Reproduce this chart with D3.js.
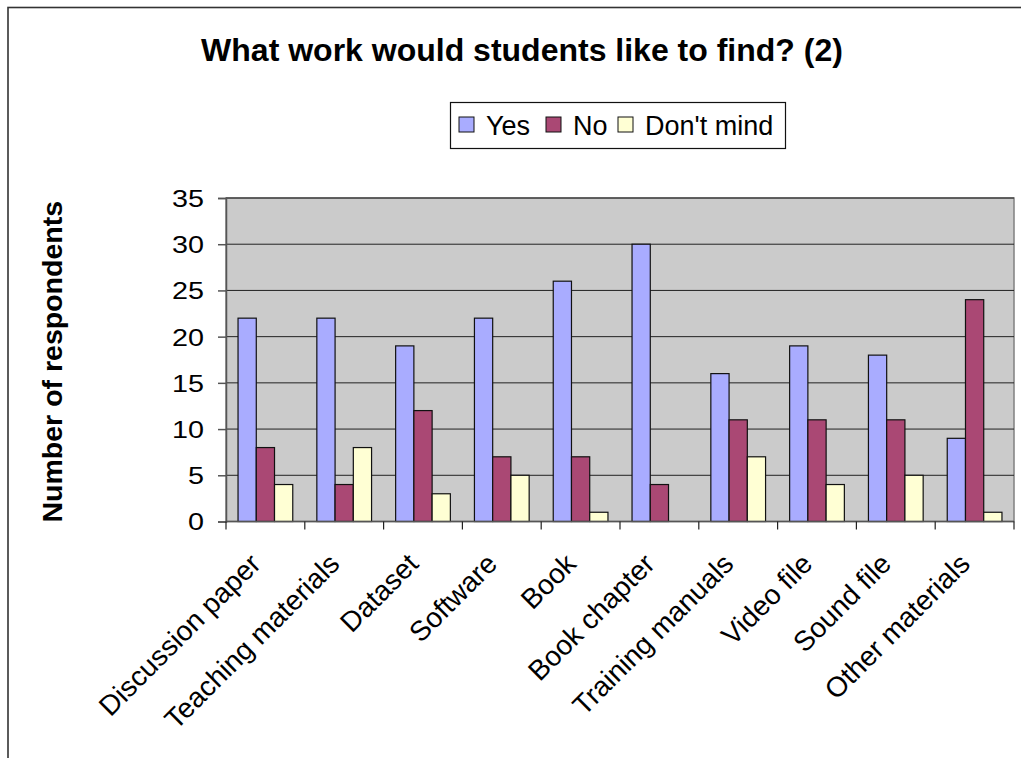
<!DOCTYPE html>
<html>
<head>
<meta charset="utf-8">
<script src="https://cdn.jsdelivr.net/npm/d3@7"></script>
<style>
  body { margin: 0; background: white; }
  svg { display: block; font-family: "Liberation Sans", Arial, sans-serif; }
</style>
</head>
<body>
<svg id="chart" width="1021" height="758"></svg>
<script>
// data
const categories = ["Discussion paper", "Teaching materials", "Dataset", "Software", "Book",
    "Book chapter", "Training manuals", "Video file", "Sound file", "Other materials"]
const seriesNames = ["Yes", "No", "Don't mind"]
const yesValues = [22, 22, 19, 22, 26, 30, 16, 19, 18, 9]
const noValues = [8, 4, 12, 7, 7, 4, 11, 11, 11, 24]
const dontMindValues = [4, 8, 3, 5, 1, 0, 7, 4, 5, 1]
const yTicks = [0, 5, 10, 15, 20, 25, 30, 35]

const colors = ["#a9acff", "#aa4874", "#ffffd4"]
const seriesValues = [yesValues, noValues, dontMindValues]

const svg = d3.select("#chart")

// outer chart frame
svg.append("rect")
    .attr("x", 8).attr("y", 7.5)
    .attr("width", 1030).attr("height", 760)
    .attr("fill", "white")
    .attr("stroke", "#333")
    .attr("stroke-width", 1.6)

const plot = { left: 226, right: 1014, top: 198, bottom: 521.5 }

const x = d3.scaleBand()
    .domain(categories)
    .range([plot.left, plot.right])

const xInner = d3.scaleBand()
    .domain(seriesNames)
    .range([0, x.bandwidth()])
    .paddingInner(0)
    .paddingOuter(0.66)

const y = d3.scaleLinear()
    .domain([0, 35])
    .range([plot.bottom, plot.top])

// plot background
svg.append("rect")
    .attr("x", plot.left).attr("y", plot.top)
    .attr("width", plot.right - plot.left)
    .attr("height", plot.bottom - plot.top)
    .attr("fill", "#cbcbcb")
    .attr("stroke", "#808080")
    .attr("stroke-width", 1.5)

// gridlines
svg.append("g")
    .selectAll("line")
    .data(yTicks.filter(d => d > 0))
    .join("line")
    .attr("x1", plot.left).attr("x2", plot.right)
    .attr("y1", d => y(d)).attr("y2", d => y(d))
    .attr("stroke", "#222")
    .attr("stroke-width", 1)

// y axis
const yAxis = svg.append("g")
    .attr("transform", `translate(${plot.left},0)`)
    .call(d3.axisLeft(y).tickValues(yTicks).tickSize(8).tickPadding(0))
yAxis.select(".domain").attr("stroke", "#555").attr("stroke-width", 1.5)
yAxis.selectAll(".tick line").attr("stroke", "#555").attr("stroke-width", 1.5)
// tick font in the picture is wide, so stretch it sideways a bit
yAxis.selectAll(".tick text")
    .attr("x", null)
    .attr("transform", "translate(-22,1) scale(1.25,1)")
    .attr("font-size", "23px")
    .attr("fill", "#000")
    .style("font-family", "Liberation Sans, Arial, sans-serif")

// bars
const groups = svg.append("g")
    .selectAll("g")
    .data(categories)
    .join("g")
    .attr("transform", d => `translate(${x(d)},0)`)

groups.selectAll("rect")
    .data((d, i) => seriesNames.map((s, j) => ({ s, j, v: seriesValues[j][i] })))
    .join("rect")
    .filter(d => d.v > 0)
    .attr("x", d => xInner(d.s))
    .attr("width", xInner.bandwidth())
    .attr("y", d => y(d.v))
    .attr("height", d => y(0) - y(d.v))
    .attr("fill", d => colors[d.j])
    .attr("stroke", "#111")
    .attr("stroke-width", 1.2)

// x axis line and ticks
const xAxis = svg.append("g")
    .attr("transform", `translate(0,${plot.bottom})`)
xAxis.append("line")
    .attr("x1", plot.left).attr("x2", plot.right)
    .attr("stroke", "#555").attr("stroke-width", 1.5)
xAxis.selectAll(".tk")
    .data(categories.map(c => x(c)).concat([plot.right]))
    .join("line")
    .attr("class", "tk")
    .attr("x1", d => d).attr("x2", d => d)
    .attr("y1", 0).attr("y2", 8)
    .attr("stroke", "#222").attr("stroke-width", 1.2)

// rotated category labels
svg.append("g")
    .selectAll("text")
    .data(categories)
    .join("text")
    .attr("transform", d => `translate(${x(d) + x.bandwidth() / 2 - 17},${plot.bottom + 30}) rotate(-45)`)
    .attr("text-anchor", "end")
    .attr("dy", "0.71em")
    .attr("font-size", "28px")
    .attr("fill", "#000")
    .text(d => d)

// title
svg.append("text")
    .attr("x", 522).attr("y", 61)
    .attr("text-anchor", "middle")
    .attr("font-size", "32px")
    .attr("font-weight", "bold")
    .text("What work would students like to find? (2)")

// y axis title
svg.append("text")
    .attr("transform", `translate(62,${(plot.top + plot.bottom) / 2 + 2}) rotate(-90)`)
    .attr("text-anchor", "middle")
    .attr("font-size", "28.5px")
    .attr("font-weight", "bold")
    .text("Number of respondents")

// legend
const legend = svg.append("g")
legend.append("rect")
    .attr("x", 450.5).attr("y", 102.5)
    .attr("width", 335).attr("height", 46)
    .attr("fill", "white")
    .attr("stroke", "#111").attr("stroke-width", 1.2)

const legendX = [459, 546, 618]
const items = legend.selectAll("g")
    .data(seriesNames)
    .join("g")
    .attr("transform", (d, i) => `translate(${legendX[i]},117)`)
items.append("rect")
    .attr("width", 15).attr("height", 15)
    .attr("fill", (d, i) => colors[i])
    .attr("stroke", "#111").attr("stroke-width", 1)
items.append("text")
    .attr("x", 27).attr("y", 18)
    .attr("font-size", "27px")
    .text(d => d)
</script>
</body>
</html>
